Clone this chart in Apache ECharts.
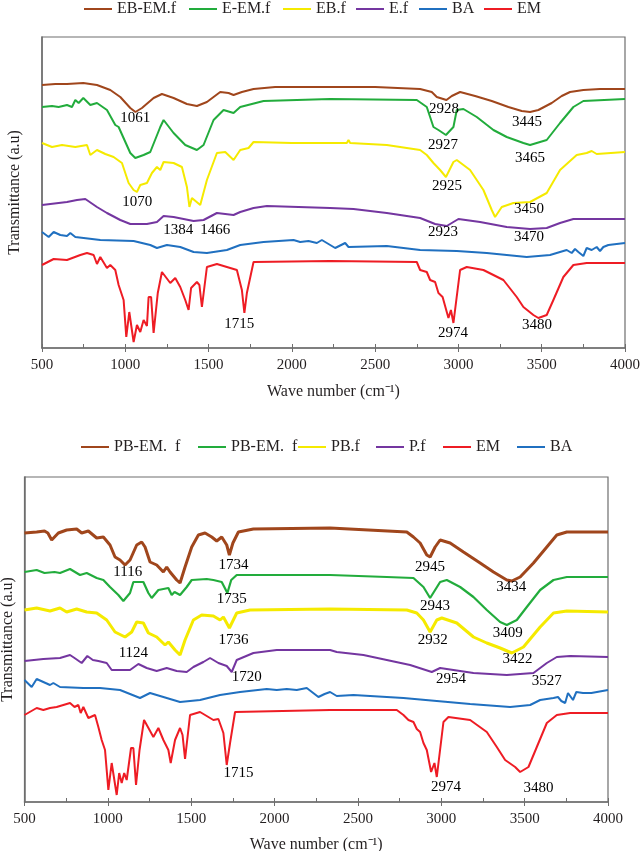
<!DOCTYPE html>
<html><head><meta charset="utf-8">
<script src="https://cdn.jsdelivr.net/npm/echarts@6/dist/echarts.min.js"></script>
<style>html,body{margin:0;padding:0;background:#fff}#c{width:640px;height:851px}</style>
</head><body><div id="c"></div>
<script>
// ---------- DATA: [wavenumber (cm-1), transmittance (a.u., offset)] ----------
// Top panel
var topEBEMf = [[500,263],[580,264],[650,264],[748,265],[830,263],[910,258],[970,251],[1030,240],[1061,236],[1100,240],[1170,250],[1220,254],[1290,250],[1370,244],[1430,242],[1490,246],[1570,256],[1620,255],[1650,253],[1700,256],[1770,259],[1900,261],[2230,261],[2500,261],[2770,259],[2840,256],[2870,251],[2928,248],[2960,252],[3010,256],[3100,252],[3200,247],[3300,241],[3380,237],[3430,236],[3480,238],[3560,245],[3620,252],[3670,256],[3750,258],[3850,259],[4000,259]];
var topEEMf = [[500,241],[560,242],[600,241],[650,243],[680,241],[700,248],[720,245],[748,250],[790,243],[830,245],[890,238],[940,223],[960,221],[1030,195],[1060,190],[1110,193],[1150,196],[1210,221],[1230,228],[1290,215],[1360,203],[1430,198],[1470,203],[1530,228],[1590,238],[1650,235],[1690,241],[1830,247],[2230,249],[2750,248],[2810,241],[2850,221],[2880,218],[2925,213],[2970,221],[2990,238],[3030,239],[3110,231],[3210,218],[3290,211],[3390,205],[3430,203],[3530,208],[3610,225],[3690,241],[3750,247],[4000,249]];
var topEBf = [[500,205],[560,201],[620,203],[700,201],[770,203],[790,193],[830,198],[880,194],[930,191],[980,185],[1020,165],[1050,158],[1070,156],[1090,163],[1130,165],[1160,175],[1190,181],[1210,178],[1230,186],[1290,185],[1340,181],[1370,161],[1385,141],[1400,150],[1450,143],[1490,168],[1550,195],[1600,196],[1650,188],[1690,198],[1740,200],[1770,206],[2000,205],[2230,205],[2330,205],[2340,208],[2350,205],[2570,203],[2770,198],[2810,193],[2850,185],[2890,178],[2925,171],[2970,186],[2990,188],[3070,178],[3150,158],[3200,138],[3220,131],[3260,141],[3330,145],[3430,146],[3530,155],[3610,178],[3710,193],[3770,195],[3800,197],[3830,194],[4000,196]];
var topEf = [[500,143],[650,146],[710,148],[760,149],[830,141],[890,135],[970,128],[1030,124],[1130,124],[1190,126],[1230,132],[1290,131],[1410,127],[1470,128],[1550,135],[1650,133],[1690,136],[1770,140],[1850,142],[2230,140],[2370,139],[2570,135],[2770,130],[2860,124],[2930,122],[3000,129],[3130,126],[3290,121],[3430,119],[3530,120],[3610,125],[3690,129],[4000,129]];
var topBA = [[500,116],[540,111],[570,116],[610,113],[650,112],[670,115],[700,111],[850,108],[1050,107],[1150,103],[1190,100],[1250,103],[1330,101],[1410,96],[1490,95],[1610,98],[1690,103],[1830,106],[2010,108],[2050,106],[2100,107],[2150,105],[2180,108],[2260,100],[2320,105],[2340,101],[2350,103],[2570,102],[2770,98],[2990,97],[3170,95],[3410,91],[3550,93],[3610,96],[3650,98],[3680,95],[3700,99],[3720,96],[3750,92],[3770,100],[3800,98],[3830,101],[3850,97],[3870,101],[3900,103],[3950,104],[4000,105]];
var topEM = [[500,83],[570,89],[650,88],[730,93],[770,95],[810,93],[830,84],[850,91],[890,80],[910,83],[940,78],[960,63],[990,48],[1006,11],[1024,36],[1050,6],[1070,23],[1090,16],[1110,28],[1130,22],[1140,51],[1155,51],[1170,15],[1195,55],[1220,76],[1270,65],[1300,70],[1330,61],[1360,48],[1380,38],[1395,60],[1430,66],[1445,63],[1460,41],[1490,81],[1550,84],[1630,80],[1670,78],[1700,58],[1715,35],[1730,55],[1770,86],[2230,87],[2750,86],[2770,78],[2810,76],[2830,68],[2860,66],[2880,55],[2905,51],[2940,30],[2955,38],[2970,25],[3010,78],[3050,81],[3150,78],[3270,68],[3350,51],[3390,41],[3450,33],[3480,30],[3530,33],[3570,48],[3630,71],[3690,83],[3770,85],[4000,85]];

// Bottom panel
var botPBEMf1 = [[500,269],[573,270],[620,271],[640,269],[663,262],[703,269],[753,272],[813,273],[843,269],[883,271],[933,264],[973,265],[1013,257],[1043,245],[1073,242],[1103,237],[1133,242],[1173,257],[1203,260],[1223,255],[1253,240],[1293,237],[1333,230],[1353,235],[1373,230],[1413,222],[1433,219],[1463,235],[1503,255],[1543,267],[1583,269],[1623,265],[1653,261],[1683,265],[1713,257],[1729,247],[1750,259],[1783,270],[1873,273],[2333,274],[2793,270],[2833,265],[2873,259],[2913,247],[2933,245],[2963,255],[2993,262],[3053,259],[3133,250],[3233,239],[3313,230],[3393,222],[3423,221],[3473,225],[3553,239],[3633,255],[3693,267],[3753,270],[4000,270]];
var botPBEMf2 = [[500,230],[573,232],[620,229],[680,230],[713,229],[773,233],[833,227],[873,229],[933,224],[973,222],[1013,215],[1063,207],[1093,201],[1133,209],[1153,220],[1213,220],[1243,209],[1263,204],[1303,212],[1363,214],[1383,207],[1400,210],[1433,207],[1473,215],[1503,222],[1593,223],[1633,222],[1683,220],[1717,209],[1740,222],[1773,227],[2333,227],[2673,225],[2833,224],[2893,215],[2933,204],[2993,220],[3033,222],[3113,215],[3193,205],[3273,192],[3353,180],[3393,177],[3453,182],[3513,195],[3593,212],[3673,222],[3753,225],[4000,225]];
var botPBf = [[500,192],[573,194],[653,191],[713,194],[753,190],[813,193],[873,190],[933,189],[993,182],[1043,170],[1103,165],[1143,170],[1173,180],[1213,179],[1243,169],[1293,165],[1343,157],[1363,160],[1403,152],[1433,147],[1463,162],[1513,182],[1563,187],[1633,186],[1673,182],[1693,185],[1729,174],[1773,189],[1853,192],[2333,193],[2793,192],[2853,189],[2893,182],[2933,170],[2973,182],[3003,184],[3093,179],[3193,165],[3273,159],[3353,154],[3423,149],[3493,155],[3593,175],[3673,189],[3753,191],[4000,190]];
var botPf = [[500,141],[613,143],[713,144],[773,147],[800,144],[843,139],[877,146],[910,142],[943,141],[993,139],[1023,132],[1133,132],[1183,138],[1233,134],[1293,131],[1353,134],[1413,131],[1473,130],[1513,135],[1573,140],[1613,144],[1663,139],[1713,136],[1743,130],[1773,142],[1873,149],[2013,152],[2333,152],[2373,150],[2533,147],[2673,142],[2813,137],[2943,130],[2993,134],[3073,132],[3193,129],[3393,127],[3553,129],[3633,139],[3693,145],[3773,146],[4000,145]];
var botEM = [[500,87],[573,94],[613,92],[653,94],[693,95],[773,99],[800,95],[823,97],[837,89],[853,95],[883,84],[923,87],[943,75],[963,62],[983,52],[1003,12],[1023,39],[1053,7],[1068,29],[1083,19],[1098,29],[1113,22],[1139,54],[1153,54],[1169,17],[1190,52],[1217,82],[1250,72],[1273,65],[1303,74],[1333,62],[1363,52],[1377,39],[1403,62],[1433,74],[1448,67],[1463,43],[1493,87],[1553,90],[1633,82],[1663,83],[1693,69],[1713,37],[1733,59],[1763,90],[2333,92],[2733,92],[2773,87],[2803,82],[2833,80],[2853,73],[2873,70],[2893,59],[2913,52],[2939,30],[2959,39],[2973,25],[3013,80],[3043,85],[3173,82],[3273,70],[3333,55],[3383,42],[3443,35],[3473,30],[3523,35],[3573,55],[3633,79],[3693,87],[3773,89],[4000,89]];
var botBA = [[500,122],[543,115],[573,123],[613,120],[653,117],[673,119],[713,115],[853,114],[953,114],[1073,112],[1193,104],[1253,109],[1313,106],[1433,100],[1553,102],[1673,107],[1793,110],[1953,113],[2013,112],[2073,113],[2133,112],[2193,114],[2263,105],[2300,108],[2333,110],[2373,106],[2473,107],[2773,104],[2973,101],[3173,98],[3413,95],[3533,97],[3593,102],[3673,104],[3700,105],[3720,101],[3743,99],[3760,109],[3790,102],[3810,110],[3850,109],[3900,109],[4000,112]];

// Peak annotations: [label, wavenumber, level]
var topPeaks = [["1061",1060,230],["1070",1072,146],["1384",1318,118],["1466",1540,118],["1715",1684,24],["2928",2914,239],["2927",2908,203],["2925",2932,162],["3445",3412,226],["3465",3430,190],["3450",3424,139],["2923",2908,116],["3470",3424,111],["2974",2968,15],["3480",3472,23]];
var botPeaks = [["1116",1119,230],["1734",1753,237],["1735",1743,203],["1124",1153,149],["1736",1753,162],["1720",1833,125],["1715",1783,29],["2945",2933,235],["3434",3419,215],["2943",2963,196],["3409",3399,169],["2932",2949,162],["3422",3457,143],["2954",3059,123],["3527",3633,121],["2974",3029,15],["3480",3583,14]];

var xTicks = [500,1000,1500,2000,2500,3000,3500,4000];

// ---------- CHART ----------
var FONT = 'Liberation Serif';
var TXT = '#231f20';
var AX = '#6e6e6e';
var C = {brown:'#a0461c', green:'#22ac3c', yellow:'#f5ea00', purple:'#7436a0', blue:'#2070c0', red:'#ee1c24'};

function lineSeries(name, data, color, grid, width){
  return {name:name, type:'line', xAxisIndex:grid*2, yAxisIndex:grid, data:data, showSymbol:false, symbol:'none',
    lineStyle:{color:color, width:width}, itemStyle:{color:color}, silent:true, animation:false};
}
function peakSeries(list, grid){
  return {type:'scatter', xAxisIndex:grid*2, yAxisIndex:grid, symbol:'circle', symbolSize:0.01, itemStyle:{color:'#fff', opacity:1}, silent:true, animation:false, z:10,
    data:list.map(function(p){return {name:p[0], value:[p[1],p[2]]};}),
    label:{show:true, position:'inside', formatter:'{b}', color:'#000', textBorderWidth:0, textShadowBlur:0, opacity:1, fontFamily:FONT, fontSize:15}};
}
function xAxes(grid, gap, margin){
  return [{gridIndex:grid, type:'value', min:500, max:4000, interval:500, position:'bottom',
      axisLine:{lineStyle:{color:AX, width:1.5}}, axisTick:{inside:false, length:4, lineStyle:{color:AX}},
      axisLabel:{color:TXT, fontFamily:FONT, fontSize:15, margin:margin, formatter:function(v){return xTicks.indexOf(v)>=0? String(v):'';}},
      splitLine:{show:false}, name:'Wave number (cm\u207B\u00B9)', nameLocation:'middle', nameGap:gap,
      nameTextStyle:{color:TXT, fontFamily:FONT, fontSize:16}},
    {gridIndex:grid, type:'value', min:500, max:4000, interval:250, position:'bottom',
      axisLine:{show:false}, axisTick:{inside:true, length:4, lineStyle:{color:AX}}, axisLabel:{show:false}, splitLine:{show:false}}];
}
function yAxis(grid, max, gap){
  return {gridIndex:grid, type:'value', min:0, max:max, axisLine:{show:true, lineStyle:{color:AX, width:1.5}}, axisTick:{show:false}, axisLabel:{show:false}, splitLine:{show:false},
    name:'Transmittance (a.u)', nameLocation:'middle', nameRotate:90, nameGap:gap, nameTextStyle:{color:TXT, fontFamily:FONT, fontSize:16}};
}
function legendItem(name, left, top){
  return {data:[name], left:left, top:top, itemWidth:28, itemHeight:2, icon:'rect', padding:0, selectedMode:false,
    formatter:function(n){return n.split('|')[0];}, textStyle:{color:TXT, fontFamily:FONT, fontSize:16}};
}

var topNames = [['EB-EM.f',topEBEMf,C.brown,84],['E-EM.f',topEEMf,C.green,189],['EB.f',topEBf,C.yellow,283],['E.f',topEf,C.purple,356],['BA',topBA,C.blue,419],['EM',topEM,C.red,484]];
var botNames = [['PB-EM.  f|1',botPBEMf1,C.brown,81,3],['PB-EM.  f|2',botPBEMf2,C.green,198,2.2],['PB.f|2',botPBf,C.yellow,298,3],['P.f|2',botPf,C.purple,376,2],['EM|2',botEM,C.red,443,2],['BA|2',botBA,C.blue,517,2]];

var series = [], legends = [];
topNames.forEach(function(s){ series.push(lineSeries(s[0], s[1], s[2], 0, 2)); legends.push(legendItem(s[0], s[3], 1)); });
botNames.forEach(function(s){ series.push(lineSeries(s[0], s[1], s[2], 1, s[4])); legends.push(legendItem(s[0], s[3], 439)); });
series.push(peakSeries(topPeaks, 0));
series.push(peakSeries(botPeaks, 1));

var option = {
  backgroundColor:'#fff', animation:false,
  grid:[{left:42, top:37, width:583, height:311, show:true, borderColor:AX, borderWidth:1.2, backgroundColor:'transparent', containLabel:false, outerBoundsMode:'none'},
        {left:24.5, top:477, width:583.5, height:325, show:true, borderColor:AX, borderWidth:1.2, backgroundColor:'transparent', containLabel:false, outerBoundsMode:'none'}],
  xAxis: xAxes(0, 36, 10).concat(xAxes(1, 35, 10)),
  yAxis: [yAxis(0, 311, 19), yAxis(1, 325, 8.5)],
  legend: legends,
  series: series
};
var chart = echarts.init(document.getElementById('c'), null, {renderer:'canvas'});
chart.setOption(option);
</script></body></html>
